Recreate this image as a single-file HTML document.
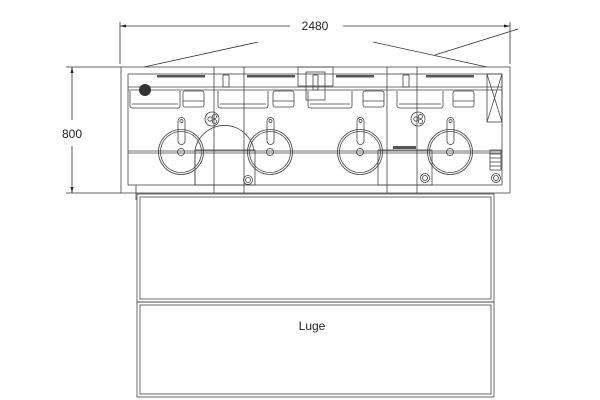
<!DOCTYPE html>
<html><head><meta charset="utf-8"><style>
html,body{margin:0;padding:0;background:#fff;}
svg{display:block;}
text{font-family:"Liberation Sans",sans-serif;fill:#222;}
</style></head><body>
<svg width="600" height="400" viewBox="0 0 600 400" xmlns="http://www.w3.org/2000/svg">
<g fill="none" stroke="#333" stroke-width="0.8">
<!-- dimension top -->
<line x1="120" y1="22" x2="120" y2="64"/>
<line x1="510" y1="22" x2="510" y2="64"/>
<line x1="120" y1="26" x2="290" y2="26"/>
<line x1="343" y1="26" x2="510" y2="26"/>
<line x1="144" y1="67" x2="258" y2="42"/>
<line x1="373" y1="42" x2="487" y2="67"/>
<line x1="435" y1="55" x2="518" y2="29"/>
<!-- dimension left -->
<line x1="66" y1="67" x2="121" y2="67"/>
<line x1="66" y1="193" x2="121" y2="193"/>
<line x1="72" y1="67" x2="72" y2="120"/>
<line x1="72" y1="146" x2="72" y2="193"/>
</g>
<g fill="#222">
<polygon points="120,26 126,24.5 126,27.5"/>
<polygon points="510,26 504,24.5 504,27.5"/>
<polygon points="72,67 70.5,73 73.5,73"/>
<polygon points="72,193 70.5,187 73.5,187"/>
</g>
<text x="315" y="30" font-size="12" text-anchor="middle">2480</text>
<text x="72" y="138" font-size="12" text-anchor="middle">800</text>

<g fill="none" stroke="#444" stroke-width="0.8">
<!-- outer -->
<rect x="121" y="67" width="389" height="126"/>
<rect x="128" y="74" width="374" height="111"/>
<line x1="128" y1="87" x2="502" y2="87"/>
<line x1="128" y1="90" x2="502" y2="90"/>
<line x1="128" y1="151" x2="502" y2="151"/>
<line x1="128" y1="153" x2="502" y2="153"/>
<line x1="214" y1="67" x2="214" y2="193"/>
<line x1="244" y1="67" x2="244" y2="193"/>
<line x1="387" y1="67" x2="387" y2="193"/>
<line x1="417" y1="67" x2="417" y2="193"/>
<line x1="136" y1="185" x2="136" y2="200"/>
<!-- top box -->
<rect x="298" y="67" width="35" height="19"/>
<rect x="306" y="72" width="19" height="28"/>
<rect x="313" y="75" width="5" height="15"/>
<rect x="223" y="75" width="6" height="12"/>
<rect x="403" y="75" width="6" height="12"/>
<!-- tubs -->
<path d="M130 91 V106 Q130 108 133 108 H178 Q180 108 180 106 V91"/>
<line x1="132" y1="104" x2="178" y2="104"/>
<path d="M218 91 V106 Q218 108 221 108 H266 Q268 108 268 106 V91"/>
<line x1="220" y1="104" x2="266" y2="104"/>
<path d="M308 91 V106 Q308 108 311 108 H350 Q352 108 352 106 V91"/>
<line x1="310" y1="104" x2="350" y2="104"/>
<path d="M397 91 V106 Q397 108 400 108 H441 Q443 108 443 106 V91"/>
<line x1="399" y1="104" x2="441" y2="104"/>
<!-- buckets -->
<rect x="183" y="91" width="21" height="16" rx="2"/><line x1="183" y1="101" x2="204" y2="101"/>
<rect x="273" y="91" width="21" height="16" rx="2"/><line x1="273" y1="101" x2="294" y2="101"/>
<rect x="363" y="91" width="21" height="16" rx="2"/><line x1="363" y1="101" x2="384" y2="101"/>
<rect x="453" y="91" width="21" height="16" rx="2"/><line x1="453" y1="101" x2="474" y2="101"/>
<!-- cross box -->
<rect x="487" y="74" width="15" height="48"/>
<line x1="487" y1="74" x2="502" y2="122"/><line x1="502" y1="74" x2="487" y2="122"/>
<!-- vent -->
<rect x="490" y="150" width="11" height="20"/>
<line x1="490" y1="154" x2="501" y2="154"/><line x1="490" y1="158" x2="501" y2="158"/>
<line x1="490" y1="162" x2="501" y2="162"/><line x1="490" y1="166" x2="501" y2="166"/>
<!-- big arcs and rects -->
<path d="M195 185 V150 A30 30 0 0 1 254 150"/>
<rect x="195" y="150" width="60" height="35"/>
<rect x="378" y="150" width="54" height="35"/>
<!-- dispensers -->
<g id="d">
<circle cx="181" cy="152" r="22.5"/><circle cx="181" cy="152" r="20.5"/>
<circle cx="181" cy="152" r="3.5"/>
<path d="M178 121 A3.5 3.5 0 0 1 185 121 V141 A3.5 3.5 0 0 1 178 141 Z"/>
<circle cx="181.5" cy="121" r="1.5"/>
</g>
<use href="#d" x="89"/><use href="#d" x="179"/><use href="#d" x="269"/>
<!-- triple circles -->
<circle cx="212" cy="119" r="7"/><circle cx="210" cy="119" r="2.2"/><circle cx="214.5" cy="116.5" r="2"/><circle cx="214.5" cy="121.5" r="2"/>
<circle cx="418" cy="119" r="7"/><circle cx="416" cy="119" r="2.2"/><circle cx="420.5" cy="116.5" r="2"/><circle cx="420.5" cy="121.5" r="2"/>
<!-- small concentric -->
<circle cx="248" cy="180" r="4.5"/><circle cx="248" cy="180" r="2.5"/>
<circle cx="425" cy="178" r="4.5"/><circle cx="425" cy="178" r="2.5"/>
<circle cx="496" cy="178" r="4.5"/><circle cx="496" cy="178" r="2.5"/>
<!-- lower boxes -->
<rect x="137" y="194" width="357" height="108"/>
<rect x="140" y="197" width="351" height="102"/>
<rect x="137" y="302" width="357" height="95"/>
<rect x="140" y="305" width="351" height="89"/>
</g>
<g fill="#555">
<rect x="157" y="75" width="48" height="2.5"/>
<rect x="247" y="75" width="48" height="2.5"/>
<rect x="336" y="75" width="38" height="2.5"/>
<rect x="426" y="75" width="48" height="2.5"/>
<rect x="393" y="146" width="23" height="3"/>
<circle cx="145" cy="90" r="6" fill="#333"/>
</g>
<text x="312" y="330" font-size="12" text-anchor="middle">Luge</text>
</svg>
</body></html>
